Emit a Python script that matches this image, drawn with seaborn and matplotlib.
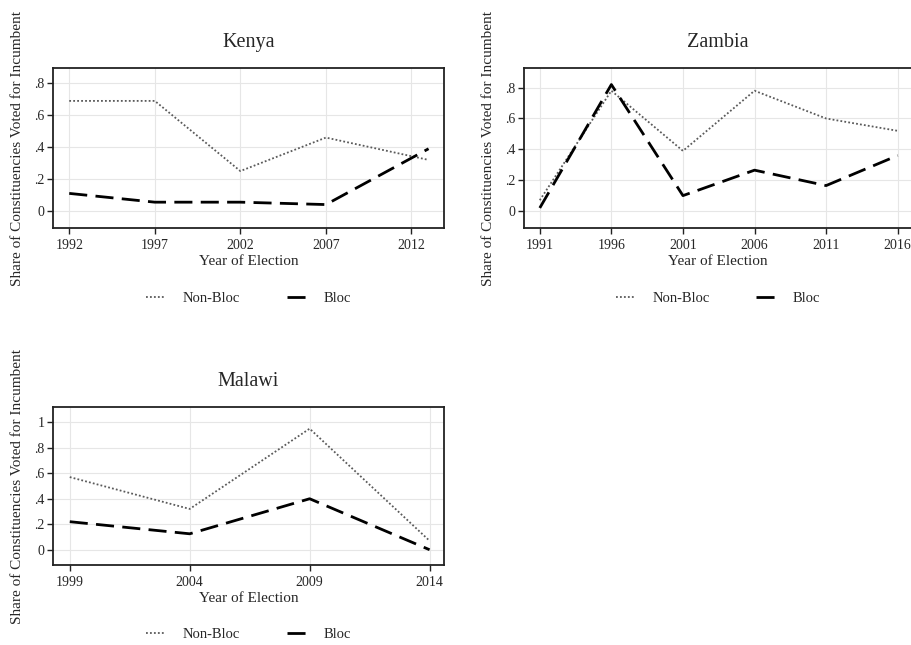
import matplotlib
matplotlib.use("Agg")
import matplotlib.pyplot as plt
import seaborn as sns
import pandas as pd
from matplotlib.ticker import FuncFormatter
from matplotlib.lines import Line2D

sns.set_style("white")
plt.rcParams['font.family'] = ['Liberation Serif', 'DejaVu Serif']

kenya_years = [1992, 1997, 2002, 2007, 2013]
kenya_nonbloc = [0.69, 0.69, 0.25, 0.46, 0.32]
kenya_bloc = [0.11, 0.055, 0.055, 0.04, 0.39]
kenya_ticks = [1992, 1997, 2002, 2007, 2012]

zambia_years = [1991, 1996, 2001, 2006, 2011, 2016]
zambia_nonbloc = [0.07, 0.78, 0.39, 0.78, 0.60, 0.52]
zambia_bloc = [0.02, 0.82, 0.10, 0.265, 0.165, 0.36]
zambia_ticks = [1991, 1996, 2001, 2006, 2011, 2016]

malawi_years = [1999, 2004, 2009, 2014]
malawi_nonbloc = [0.57, 0.32, 0.95, 0.07]
malawi_bloc = [0.22, 0.125, 0.40, 0.0]
malawi_ticks = [1999, 2004, 2009, 2014]

series_labels = ["Non-Bloc", "Bloc"]
ylabel = "Share of Constituencies Voted for Incumbent"
xlabel = "Year of Election"

fig = plt.figure(figsize=(9.12, 6.45), dpi=100)
ax_k = fig.add_axes([0.0581, 0.6465, 0.4287, 0.248])
ax_z = fig.add_axes([0.5746, 0.6465, 0.4254, 0.248])
ax_m = fig.add_axes([0.0581, 0.124, 0.4287, 0.245])

dot_style = dict(color="#5a5a5a", lw=1.3, ls=(0, (1, 1.2)))
dash_style = dict(color="black", lw=2.0, ls=(0, (6.5, 3)))

def yfmt(v, pos):
    if abs(v) < 1e-9:
        return "0"
    if abs(v - 1) < 1e-9:
        return "1"
    return ("%.1f" % v).lstrip("0")

def panel(ax, title, years, nb, b, ticks, yticks, xlim, ylim, ylab_x):
    df = pd.DataFrame({"year": years, "nb": nb, "b": b})
    sns.lineplot(data=df, x="year", y="nb", ax=ax, **dot_style)
    sns.lineplot(data=df, x="year", y="b", ax=ax, **dash_style)
    ax.set_xlim(*xlim)
    ax.set_ylim(*ylim)
    ax.set_xticks(ticks)
    ax.set_yticks(yticks)
    ax.yaxis.set_major_formatter(FuncFormatter(yfmt))
    ax.grid(True, color="#e6e6e6", lw=0.8)
    ax.set_axisbelow(True)
    for s in ax.spines.values():
        s.set_color("#222222")
        s.set_linewidth(1.3)
    ax.tick_params(axis="both", direction="out", length=4, width=1, color="#222222",
                   labelsize=10, left=True, bottom=True)
    ax.tick_params(axis="x", pad=4)
    ax.tick_params(axis="y", pad=2)
    ax.set_title(title, fontsize=14.5, pad=15)
    ax.set_xlabel(xlabel, fontsize=11, labelpad=2)
    ax.set_ylabel(ylabel, fontsize=11)
    ax.yaxis.set_label_coords(ylab_x, 0.5)
    handles = [Line2D([0], [0], **dot_style), Line2D([0], [0], **dash_style)]
    ax.legend(handles, series_labels, loc="center", bbox_to_anchor=(0.5, -0.44),
              ncol=2, frameon=False, fontsize=10.5, handlelength=1.3,
              columnspacing=3.2, handletextpad=1.2)

panel(ax_k, "Kenya", kenya_years, kenya_nonbloc, kenya_bloc, kenya_ticks,
      [0, 0.2, 0.4, 0.6, 0.8], (1991.05, 2013.9), (-0.107, 0.896), -0.075)
panel(ax_z, "Zambia", zambia_years, zambia_nonbloc, zambia_bloc, zambia_ticks,
      [0, 0.2, 0.4, 0.6, 0.8], (1989.9, 2017.0), (-0.11, 0.927), -0.075)
panel(ax_m, "Malawi", malawi_years, malawi_nonbloc, malawi_bloc, malawi_ticks,
      [0, 0.2, 0.4, 0.6, 0.8, 1.0], (1998.3, 2014.6), (-0.12, 1.12), -0.075)

fig.savefig("out.png", dpi=100)
